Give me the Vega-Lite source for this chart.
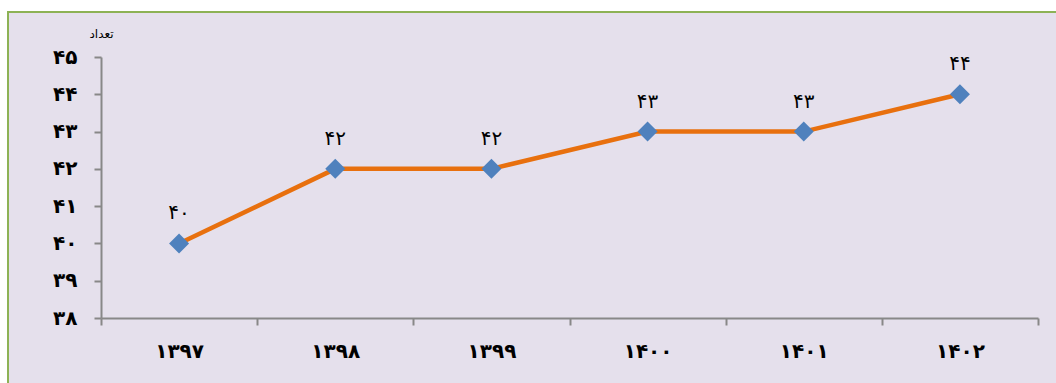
{
  "$schema": "https://vega.github.io/schema/vega-lite/v6.json",
  "autosize": "none",
  "width": 1060,
  "height": 380,
  "padding": {"left": 8, "top": 12, "right": 0, "bottom": 0},
  "background": "#FFFFFF",
  "config": {
    "view": {"fill": "#E5E0EC", "stroke": "#8DB255", "strokeWidth": 2},
    "font": "DejaVu Sans"
  },
  "data": {
    "values": [
      {"year": "۱۳۹۷", "value": 40, "label": "۴۰"},
      {"year": "۱۳۹۸", "value": 42, "label": "۴۲"},
      {"year": "۱۳۹۹", "value": 42, "label": "۴۲"},
      {"year": "۱۴۰۰", "value": 43, "label": "۴۳"},
      {"year": "۱۴۰۱", "value": 43, "label": "۴۳"},
      {"year": "۱۴۰۲", "value": 44, "label": "۴۴"}
    ]
  },
  "encoding": {
    "x": {
      "field": "year",
      "type": "ordinal",
      "sort": null,
      "scale": {"type": "band", "range": [93, 1030], "paddingInner": 0, "paddingOuter": 0},
      "axis": {
        "title": null,
        "orient": "bottom",
        "offset": -74,
        "tickBand": "extent",
        "domainColor": "#888888",
        "domainWidth": 2,
        "tickColor": "#888888",
        "tickWidth": 2,
        "tickSize": 7,
        "labelAngle": 0,
        "labelFont": "DejaVu Sans",
        "labelFontWeight": "bold",
        "labelFontSize": 20,
        "labelColor": "#000000",
        "labelPadding": 16
      }
    },
    "y": {
      "field": "value",
      "type": "quantitative",
      "scale": {"domain": [38, 45], "range": [306, 45], "zero": false, "nice": false},
      "axis": {
        "orient": "left",
        "offset": -93,
        "values": [38, 39, 40, 41, 42, 43, 44, 45],
        "labelExpr": "['۳۸','۳۹','۴۰','۴۱','۴۲','۴۳','۴۴','۴۵'][datum.value - 38]",
        "grid": false,
        "domainColor": "#888888",
        "domainWidth": 2,
        "tickColor": "#888888",
        "tickWidth": 2,
        "tickSize": 7,
        "labelFont": "DejaVu Sans",
        "labelFontWeight": "bold",
        "labelFontSize": 20,
        "labelColor": "#000000",
        "labelPadding": 17,
        "title": "تعداد",
        "titleAngle": 0,
        "titleFont": "DejaVu Sans",
        "titleFontWeight": "normal",
        "titleFontSize": 12,
        "titleColor": "#000000",
        "titleX": 0,
        "titleY": 21,
        "titleAlign": "center",
        "titleBaseline": "middle"
      }
    }
  },
  "layer": [
    {"mark": {"type": "line", "color": "#E8700E", "strokeWidth": 4.5}},
    {"mark": {"type": "point", "shape": "diamond", "filled": true, "color": "#4F81BD", "opacity": 1, "size": 400}},
    {
      "mark": {"type": "text", "dy": -30, "fontSize": 20, "font": "DejaVu Sans", "color": "#000000"},
      "encoding": {"text": {"field": "label"}}
    }
  ]
}
